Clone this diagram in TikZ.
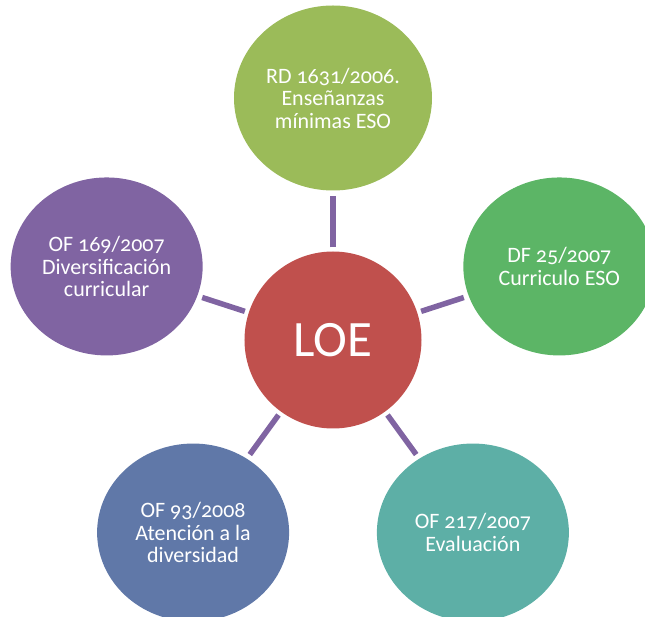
\documentclass[tikz,border=0pt]{standalone}
\usepackage{fontspec}
\setmainfont{Carlito}[Numbers=OldStyle]
\usetikzlibrary{shapes.geometric}
\definecolor{loered}{RGB}{192,80,77}
\definecolor{rdgreen}{RGB}{155,187,89}
\definecolor{dfgreen}{RGB}{92,181,102}
\definecolor{evteal}{RGB}{93,175,166}
\definecolor{atblue}{RGB}{96,120,168}
\definecolor{dvpurple}{RGB}{128,100,162}
\begin{document}
\begin{tikzpicture}[x=1pt,y=1pt,
  hub/.style={circle,fill=loered,minimum size=177pt,inner sep=0pt,text=white,font=\fontsize{51}{54}\selectfont},
  leaf/.style={ellipse,minimum width=192pt,minimum height=178pt,inner sep=0pt,text=white,align=center,font=\fontsize{22}{22.5}\selectfont},
  link/.style={draw=dvpurple,line width=5.5pt,shorten <=4pt,shorten >=5pt}]
\useasboundingbox (-333,-277) rectangle (312,340);
\node[hub] (loe) at (0,0) {LOE};
\node[leaf,fill=rdgreen,minimum width=198pt,minimum height=185pt] (rd) at (90:242) {RD 1631/2006.\\Enseñanzas\\mínimas ESO};
\node[leaf,fill=dfgreen] (df) at (18:238) {DF 25/2007\\Curriculo ESO};
\node[leaf,fill=evteal] (ev) at (-54:238) {OF 217/2007\\Evaluación};
\node[leaf,fill=atblue] (at) at (234:238) {OF 93/2008\\Atención a la\\diversidad};
\node[leaf,fill=dvpurple] (dv) at (162:238) {OF 169/2007\\Diversificación\\curricular};
\draw[link] (loe) -- (rd);
\draw[link] (loe) -- (df);
\draw[link] (loe) -- (ev);
\draw[link] (loe) -- (at);
\draw[link] (loe) -- (dv);
\end{tikzpicture}
\end{document}
